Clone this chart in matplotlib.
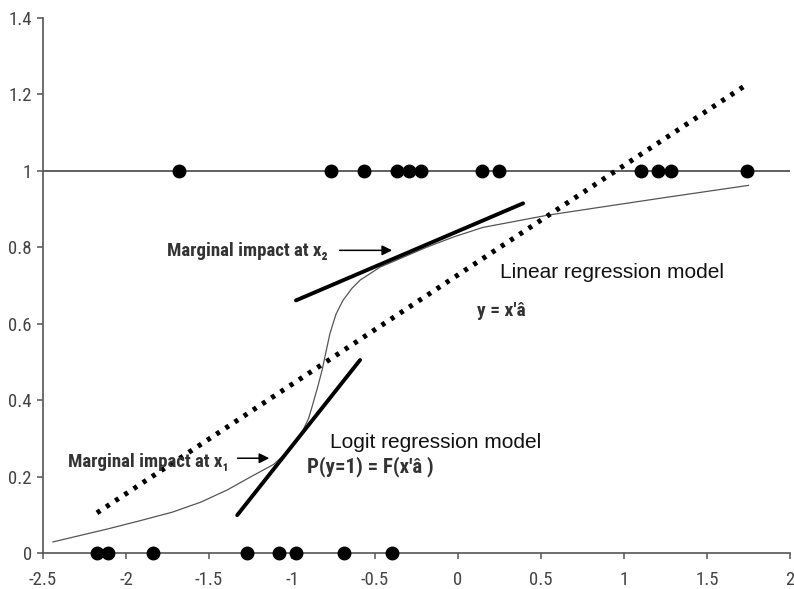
import numpy as np
import matplotlib.pyplot as plt

# observed outcomes (y = 1 and y = 0)
x_ones = [-1.68, -0.765, -0.566, -0.367, -0.295, -0.223, 0.145, 0.247, 1.10, 1.205, 1.283, 1.74]
x_zeros = [-2.175, -2.108, -1.837, -1.271, -1.078, -0.976, -0.687, -0.398]

# logit curve
logit_x = [-2.44, -2.11, -1.92, -1.72, -1.55, -1.39, -1.25, -1.11, -1.02, -0.96, -0.93,
           -0.90, -0.873, -0.845, -0.819, -0.795, -0.771, -0.735, -0.693, -0.64, -0.59,
           -0.47, -0.33, -0.19, -0.02, 0.15, 0.54, 0.86, 1.26, 1.75]
logit_y = [0.029, 0.063, 0.084, 0.107, 0.133, 0.165, 0.199, 0.232, 0.268, 0.300, 0.325,
           0.352, 0.392, 0.435, 0.478, 0.527, 0.575, 0.625, 0.661, 0.692, 0.714,
           0.748, 0.774, 0.800, 0.828, 0.852, 0.884, 0.905, 0.931, 0.962]

# linear regression line (end points)
lin_x = [-2.175, 1.74]
lin_y = [0.105, 1.226]

# tangent lines
tan1_x = [-1.33, -0.59]
tan1_y = [0.099, 0.505]
tan2_x = [-0.976, 0.392]
tan2_y = [0.661, 0.915]

xticks = [-2.5, -2, -1.5, -1, -0.5, 0, 0.5, 1, 1.5, 2]
xlabels = ['-2.5', '-2', '-1.5', '-1', '-0.5', '0', '0.5', '1', '1.5', '2']
yticks = [0, 0.2, 0.4, 0.6, 0.8, 1, 1.2, 1.4]
ylabels = ['0', '0.2', '0.4', '0.6', '0.8', '1', '1.2', '1.4']

narrow = ['Roboto Condensed', 'PT Sans Narrow', 'DejaVu Sans']
plain = ['Liberation Sans', 'DejaVu Sans']

fig = plt.figure(figsize=(7.94, 5.89), dpi=100)
ax = fig.add_axes([43 / 794, 36 / 589, 747 / 794, 535 / 589])

ax.axhline(1, color='#444444', lw=1.2, zorder=1)
ax.plot(logit_x, logit_y, color='#555555', lw=0.9, zorder=2)
ax.plot(lin_x, lin_y, color='black', lw=3.6, linestyle=(0, (0.8, 1.4)),
        dash_capstyle='butt', zorder=2)
ax.plot(tan1_x, tan1_y, color='black', lw=2.8, solid_capstyle='round', zorder=3)
ax.plot(tan2_x, tan2_y, color='black', lw=2.8, solid_capstyle='round', zorder=3)

ax.plot(x_ones, [1] * len(x_ones), 'o', color='black', ms=9, zorder=4, clip_on=False)
ax.plot(x_zeros, [0] * len(x_zeros), 'o', color='black', ms=9, zorder=4, clip_on=False)

txtcol = '#333333'
ax.text(-1.753, 0.79, 'Marginal impact at x\u2082', family=narrow, weight='bold',
        fontsize=13.6, color=txtcol, va='center', ha='left')
ax.annotate('', xy=(-0.38, 0.792), xytext=(-0.73, 0.792),
            arrowprops=dict(arrowstyle='-|>', color='black', lw=1.1, mutation_scale=15))
ax.text(-2.349, 0.238, 'Marginal impact at x\u2081', family=narrow, weight='bold',
        fontsize=13.6, color=txtcol, va='center', ha='left')
ax.annotate('', xy=(-1.12, 0.248), xytext=(-1.345, 0.248),
            arrowprops=dict(arrowstyle='-|>', color='black', lw=1.1, mutation_scale=15))

ax.text(0.253, 0.735, 'Linear regression model', family=plain, fontsize=15,
        color='#111111', va='center', ha='left')
ax.text(0.114, 0.633, "y = x'\u00e2", family=narrow, weight='bold', fontsize=14,
        color=txtcol, va='center', ha='left')
ax.text(-0.771, 0.29, 'Logit regression model', family=plain, fontsize=15,
        color='#111111', va='center', ha='left')
ax.text(-0.91, 0.227, "P(y=1) = F(x'\u00e2 )", family=narrow, weight='bold', fontsize=15,
        color=txtcol, va='center', ha='left')

ax.set_xlim(-2.5, 2)
ax.set_ylim(0, 1.4)
ax.set_xticks(xticks)
ax.set_xticklabels(xlabels, family=narrow, fontsize=13.5, color='#444444')
ax.set_yticks(yticks)
ax.set_yticklabels(ylabels, family=narrow, fontsize=13.5, color='#444444')
ax.tick_params(axis='x', direction='out', length=4, width=1.1, color='#555555', pad=9)
ax.tick_params(axis='y', direction='out', length=4, width=1.1, color='#555555', pad=4)

for s in ['top', 'right']:
    ax.spines[s].set_visible(False)
for s in ['left', 'bottom']:
    ax.spines[s].set_color('#555555')
    ax.spines[s].set_linewidth(1.2)

fig.savefig('out.png', dpi=100)
